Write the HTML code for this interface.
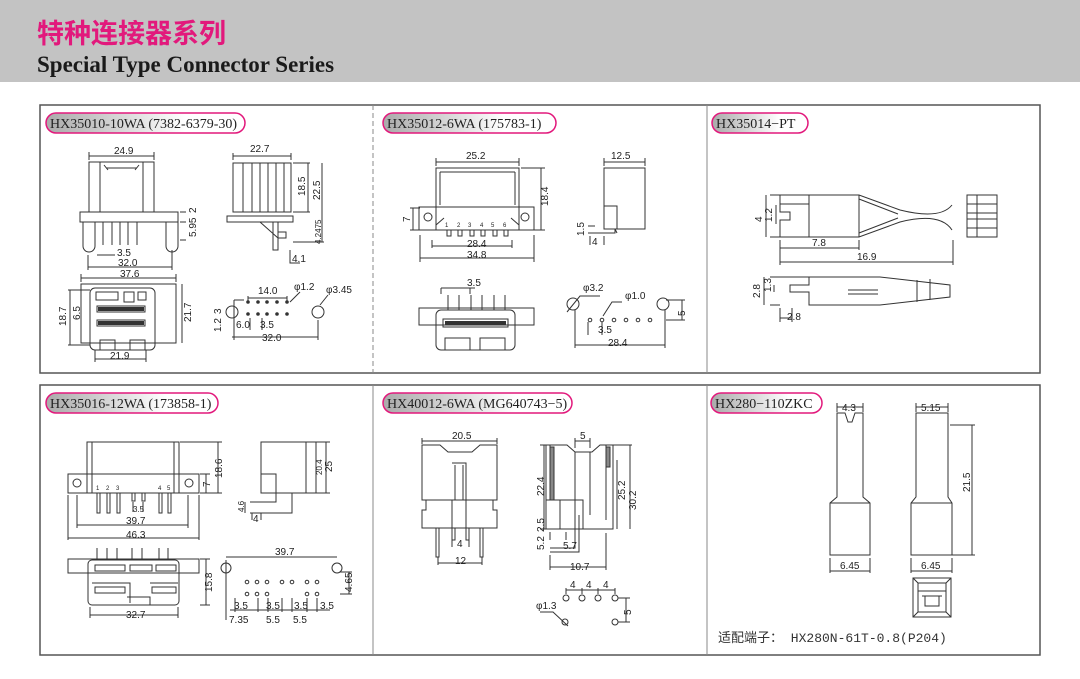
<!DOCTYPE html>
<html><head><meta charset="utf-8"><style>
html,body{margin:0;padding:0;background:#fff;width:1080px;height:679px;overflow:hidden}
svg{display:block}
.t{font-family:"Liberation Sans",sans-serif;font-size:10px;fill:#222}
.p{font-family:"Liberation Serif","Noto Serif CJK SC",serif;font-size:14px;fill:#222}
</style></head><body>
<svg width="1080" height="679" viewBox="0 0 1080 679" xmlns="http://www.w3.org/2000/svg">
<defs><linearGradient id="g" x1="0" x2="1"><stop offset="0" stop-color="#aaa"/><stop offset="0.7" stop-color="#fff"/></linearGradient></defs>
<rect x="0" y="0" width="1080" height="82" fill="#c3c3c3"/>
<text x="37" y="43" font-family="Liberation Sans,'Noto Sans CJK SC',sans-serif" font-size="27" font-weight="bold" fill="#e2197c">特种连接器系列</text>
<text x="37" y="72" font-family="Liberation Serif,serif" font-size="23" font-weight="bold" fill="#1a1a1a">Special Type Connector Series</text>

<g fill="none" stroke="#555" stroke-width="1.5">
<rect x="40" y="105" width="1000" height="268"/>
<rect x="40" y="385" width="1000" height="270"/>
</g>
<line x1="373" y1="105" x2="373" y2="373" stroke="#888" stroke-dasharray="5,3"/>
<line x1="707" y1="105" x2="707" y2="373" stroke="#888"/>
<line x1="373" y1="385" x2="373" y2="655" stroke="#888"/>
<line x1="707" y1="385" x2="707" y2="655" stroke="#888"/>

<g stroke="#e2197c" stroke-width="1.5" fill="url(#g)">
<rect x="46" y="113" width="199" height="20" rx="10"/>
<rect x="383" y="113" width="173" height="20" rx="10"/>
<rect x="712" y="113" width="96" height="20" rx="10"/>
<rect x="46" y="393" width="172" height="20" rx="10"/>
<rect x="383" y="393" width="189" height="20" rx="10"/>
<rect x="711" y="393" width="111" height="20" rx="10"/>
</g>
<text class="p" x="50" y="128">HX35010-10WA (7382-6379-30)</text>
<text class="p" x="387" y="128">HX35012-6WA (175783-1)</text>
<text class="p" x="716" y="128">HX35014−PT</text>
<text class="p" x="50" y="408">HX35016-12WA (173858-1)</text>
<text class="p" x="387" y="408">HX40012-6WA (MG640743−5)</text>
<text class="p" x="715" y="408">HX280−110ZKC</text>

<g fill="none" stroke="#333" stroke-width="1">
<rect x="89" y="162" width="65" height="50"/><line x1="100" y1="162" x2="100" y2="212"/><line x1="143" y1="162" x2="143" y2="212"/>
<path d="M106 168 L137 168 M104 165 L108 170 M139 165 L135 170"/>
<rect x="80" y="212" width="98" height="10"/>
<path d="M83 222 V246 a6 6 0 0 0 12 0 V222 M166 222 V246 a6 6 0 0 0 12 0 V222"/>
<path d="M103 222V245M112 222V245M120 222V245M128 222V245M137 222V245"/>
<path d="M89 152V160M154 152V160M89 156H154M88 255V270M172 250V270M88 267H172M97 255H115M180 212H186M180 222H186M180 240H186"/>
<rect x="233" y="163" width="58" height="49"/>
<path d="M243 163V212M252 163V212M260 163V212M268 163V212M276 163V212M284 163V212"/>
<rect x="227" y="216" width="66" height="6"/>
<path d="M273 222V250H278V222M260 222L278 238M278 232H286V238H278"/>
<path d="M233 153V160M291 153V160M233 156H291M293 163H310M293 212H310M293 242H324M308 163V212M322 163V242M290 250V263H300"/>
<rect x="81" y="284" width="95" height="59"/>
<rect x="90" y="288" width="65" height="62" rx="5"/>
<rect x="97" y="306" width="48" height="6"/><rect x="97" y="320" width="48" height="6"/>
<rect x="96" y="292" width="22" height="8"/><rect x="124" y="292" width="10" height="10"/><rect x="138" y="292" width="8" height="8"/>
<path d="M100 350V340H115V350M130 350V340H145V350M81 274V282M176 274V282M81 278H176M95 350V362M146 350V362M95 359H146M70 290V345M68 290H90M68 345H90M182 284V343"/>
<circle cx="232" cy="312" r="6"/><circle cx="318" cy="312" r="6"/>
<path d="M234 300H244M234 300V340M318 320V340M232 337H318M248 296V302M287 296V302M248 298H287M290 302L300 292M320 305L328 295M250 318V330M262 318V330"/>
</g>
<g fill="#333"><circle cx="248" cy="302" r="1.8"/><circle cx="258" cy="302" r="1.8"/><circle cx="267" cy="302" r="1.8"/><circle cx="277" cy="302" r="1.8"/><circle cx="287" cy="302" r="1.8"/><circle cx="248" cy="314" r="1.8"/><circle cx="258" cy="314" r="1.8"/><circle cx="267" cy="314" r="1.8"/><circle cx="277" cy="314" r="1.8"/><circle cx="287" cy="314" r="1.8"/>
<rect x="98" y="307" width="46" height="4"/><rect x="98" y="321" width="46" height="4"/></g>
<g class="t">
<text x="114" y="154">24.9</text><text x="117" y="256">3.5</text><text x="118" y="266">32.0</text>
<text x="250" y="152">22.7</text><text x="292" y="262">4.1</text><text x="120" y="277">37.6</text><text x="110" y="359">21.9</text>
<text x="258" y="294">14.0</text><text x="294" y="290">φ1.2</text><text x="326" y="293">φ3.45</text>
<text x="236" y="328">6.0</text><text x="260" y="328">3.5</text><text x="262" y="341">32.0</text>
<text transform="translate(196,213) rotate(-90)">2</text><text transform="translate(196,237) rotate(-90)">5.95</text>
<text transform="translate(305,196) rotate(-90)">18.5</text><text transform="translate(320,200) rotate(-90)">22.5</text>
<text transform="translate(321,244) rotate(-90)" font-size="8">4.2475</text>
<text transform="translate(66,326) rotate(-90)">18.7</text><text transform="translate(80,320) rotate(-90)">6.5</text><text transform="translate(191,322) rotate(-90)">21.7</text>
<text transform="translate(221,314) rotate(-90)">3</text><text transform="translate(221,332) rotate(-90)">1.2</text>
</g>

<g fill="none" stroke="#333">
<rect x="436" y="168" width="83" height="62"/><path d="M440 172H515M440 172V205M515 172V205"/>
<rect x="419" y="207" width="115" height="23"/><path d="M436 207V230M519 207V230M436 225L444 218M519 225L511 218"/>
<circle cx="428" cy="217" r="4"/><circle cx="525" cy="217" r="4"/>
<path d="M447 230v6h4v-6M458 230v6h4v-6M470 230v6h4v-6M481 230v6h4v-6M493 230v6h4v-6M504 230v6h4v-6"/>
<path d="M436 158V166M519 158V166M436 162H519M521 168H545M521 230H545M541 168V230M420 208H410M420 230H410M413 208V230M420 235V262M534 235V262M420 258H534M432 240V248M512 240V248M432 246H512"/>
<rect x="604" y="168" width="41" height="61"/><rect x="604" y="206" width="13" height="23"/>
<path d="M615 229V233H590M615 229L617 233M604 158V166M645 158V166M604 162H645M590 236V245M604 236V245M588 226H595M588 233H595"/>
<rect x="436" y="310" width="79" height="40" rx="5"/><rect x="419" y="308" width="115" height="17"/>
<rect x="443" y="319" width="65" height="8"/>
<path d="M448 295V310M459 295V310M471 295V310M482 295V310M494 295V310M505 295V310M441 288H475M441 288V294M470 288V294M445 350V338H470V350M480 350V338H505V350"/>
<circle cx="573" cy="304" r="6"/><circle cx="663" cy="304" r="6"/>
<path d="M567 312L580 296L600 296M603 316L612 302H622M588 322V335M602 322V335M575 310V348M665 310V348M575 345H665M666 300H685M666 320H685M682 300V320"/>
</g>
<g fill="#333"><rect x="445" y="321" width="61" height="4"/></g>
<g stroke="#333" fill="none"><circle cx="590" cy="320" r="1.8"/><circle cx="602" cy="320" r="1.8"/><circle cx="614" cy="320" r="1.8"/><circle cx="626" cy="320" r="1.8"/><circle cx="638" cy="320" r="1.8"/><circle cx="650" cy="320" r="1.8"/></g>
<g class="t">
<text x="466" y="159">25.2</text><text x="467" y="247">28.4</text><text x="467" y="258">34.8</text><text x="611" y="159">12.5</text>
<text x="592" y="245">4</text><text x="467" y="286">3.5</text><text x="583" y="291">φ3.2</text><text x="625" y="299">φ1.0</text>
<text x="598" y="333">3.5</text><text x="608" y="346">28.4</text>
<text transform="translate(410,222) rotate(-90)">7</text><text transform="translate(548,206) rotate(-90)">18.4</text>
<text transform="translate(584,236) rotate(-90)">1.5</text><text transform="translate(685,316) rotate(-90)">5</text>
<g font-size="6"><text x="445" y="227">1</text><text x="457" y="227">2</text><text x="468" y="227">3</text><text x="480" y="227">4</text><text x="491" y="227">5</text><text x="503" y="227">6</text></g>
</g>

<g fill="none" stroke="#333">
<path d="M780 195H859L900 210Q940 220 952 205M780 237H859L900 222Q940 212 952 230"/>
<path d="M780 195V204H809V195M780 228V237H809V228M809 195V237M780 204V212H790V220H780V228M859 195V237M859 199L898 214M859 233L898 218"/>
<rect x="967" y="195" width="30" height="42"/><path d="M967 204H997M967 228H997M967 213H997M967 219H997M977 195V237"/>
<path d="M770 195H780M770 237H780M766 195V237M776 205V224M780 240V265M859 240V250M953 240V265M780 248H859M780 262H953"/>
<path d="M780 277H809V285H790V292H809V305H880L950 297V285L880 277H809M848 290H878M848 294H878M917 280V302M930 279V300"/>
<path d="M770 277H780M770 305H780M764 277V305M774 285V292M780 308V322M792 308V322M780 318H792"/>
</g>
<g class="t"><text x="812" y="246">7.8</text><text x="857" y="260">16.9</text><text x="787" y="320">2.8</text>
<text transform="translate(762,222) rotate(-90)">4</text><text transform="translate(772,222) rotate(-90)">1.2</text>
<text transform="translate(760,298) rotate(-90)">2.8</text><text transform="translate(771,292) rotate(-90)">1.3</text></g>

<g fill="none" stroke="#333">
<rect x="87" y="442" width="92" height="51"/><path d="M92 442V493M174 442V493"/>
<rect x="68" y="474" width="131" height="19"/><circle cx="77" cy="483" r="4"/><circle cx="189" cy="483" r="4"/>
<path d="M97 493v20h3v-20M107 493v20h3v-20M117 493v20h3v-20M132 493v8h3v-8M142 493v8h3v-8M159 493v20h3v-20M168 493v20h3v-20"/>
<path d="M180 442H222M200 474H210M200 493H222M218 442V493M206 474V493M133 502V512M143 502V512M77 495V528M188 495V528M77 525H188M68 495V540M199 495V540M68 538H199"/>
<rect x="261" y="442" width="45" height="51"/><rect x="261" y="474" width="15" height="19"/>
<path d="M292 493V513H250M276 493V502H250M306 442H330M306 493H330M316 442V493M326 442V493M245 502V513M252 513V520M261 513V520"/>
<rect x="68" y="559" width="131" height="14"/><rect x="88" y="560" width="91" height="45" rx="4"/>
<path d="M97 548V560M107 548V560M117 548V560M132 548V560M142 548V560M159 548V560M168 548V560M92 583H130V603M150 583H178M127 597H150V605M90 607V618M178 607V618M90 615H178M200 559H210M200 605H210M206 559V605"/>
<rect x="95" y="565" width="30" height="6"/><rect x="130" y="565" width="22" height="6"/><rect x="156" y="565" width="20" height="6"/><rect x="95" y="587" width="30" height="6"/><rect x="152" y="587" width="24" height="6"/>
<circle cx="226" cy="568" r="5"/><circle cx="337" cy="568" r="5"/>
<path d="M226 560V620M226 557H337M340 572H352M340 594H352M349 572V594M235 598V612M258 598V612M268 598V612M282 598V612M292 598V612M307 598V612M317 598V612M230 610H330"/>
</g>
<g stroke="#333" fill="none"><circle cx="247" cy="582" r="1.8"/><circle cx="257" cy="582" r="1.8"/><circle cx="267" cy="582" r="1.8"/><circle cx="282" cy="582" r="1.8"/><circle cx="292" cy="582" r="1.8"/><circle cx="307" cy="582" r="1.8"/><circle cx="317" cy="582" r="1.8"/><circle cx="247" cy="594" r="1.8"/><circle cx="257" cy="594" r="1.8"/><circle cx="267" cy="594" r="1.8"/><circle cx="307" cy="594" r="1.8"/><circle cx="317" cy="594" r="1.8"/></g>
<g class="t"><text x="126" y="524">39.7</text><text x="126" y="538">46.3</text><text x="133" y="512" font-size="8">3.5</text><text x="253" y="522">4</text>
<text x="126" y="618">32.7</text><text x="275" y="555">39.7</text>
<text x="234" y="609">3.5</text><text x="266" y="609">3.5</text><text x="294" y="609">3.5</text><text x="320" y="609">3.5</text>
<text x="229" y="623">7.35</text><text x="266" y="623">5.5</text><text x="293" y="623">5.5</text>
<text transform="translate(222,478) rotate(-90)">18.6</text><text transform="translate(210,487) rotate(-90)">7</text>
<text transform="translate(322,475) rotate(-90)" font-size="8">20.4</text><text transform="translate(332,472) rotate(-90)">25</text>
<text transform="translate(244,512) rotate(-90)" font-size="8">4.6</text><text transform="translate(212,592) rotate(-90)">15.8</text>
<text transform="translate(352,592) rotate(-90)">4.6</text><text transform="translate(352,578) rotate(-90)">5</text>
<g font-size="6"><text x="96" y="490">1</text><text x="106" y="490">2</text><text x="116" y="490">3</text><text x="158" y="490">4</text><text x="167" y="490">5</text></g></g>

<g fill="none" stroke="#333">
<path d="M422 445H440L448 452H472L480 445H497V500H493V510H497V528H422V510H426V500H422Z"/>
<path d="M422 500H497M452 463H466V500M455 465V500M463 465V500M452 500V528M466 500V528"/>
<path d="M436 528v29h3v-29M452 528v12h3v-12M466 528v12h3v-12M480 528v29h3v-29M422 438V444M497 438V444M422 441H497M452 540V547M469 540V547M438 557V565M482 557V565M438 563H482"/>
<path d="M546 445H567L575 452H592L600 445H613V529H546Z"/>
<path d="M550 445V500M606 445V520M575 452V515M590 452V515M546 500H583V529M560 500V529"/>
<rect x="550" y="447" width="4" height="53" fill="#888"/><rect x="606" y="447" width="4" height="20" fill="#888"/>
<path d="M575 515V548H550M579 515V552H550M575 438V448M590 438V448M575 441H590M540 445H546M540 529H546M544 445V529M613 445H632M617 460V529M630 445V529M550 532V540M566 532V540M550 555V570M606 533V570M550 567H606"/>
<circle cx="566" cy="598" r="3"/><circle cx="582" cy="598" r="3"/><circle cx="598" cy="598" r="3"/><circle cx="615" cy="598" r="3"/><circle cx="565" cy="622" r="3"/><circle cx="615" cy="622" r="3"/>
<path d="M566 588V594M582 588V594M598 588V594M615 588V594M566 590H615M618 598H630M618 622H630M626 598V622M540 612H553L568 626"/>
</g>
<g class="t"><text x="452" y="439">20.5</text><text x="457" y="547">4</text><text x="455" y="564">12</text><text x="580" y="439">5</text>
<text x="563" y="549">5.7</text><text x="570" y="570">10.7</text><text x="570" y="588">4</text><text x="586" y="588">4</text><text x="603" y="588">4</text>
<text x="536" y="609">φ1.3</text>
<text transform="translate(544,496) rotate(-90)">22.4</text><text transform="translate(625,500) rotate(-90)">25.2</text><text transform="translate(636,510) rotate(-90)">30.2</text>
<text transform="translate(544,532) rotate(-90)">2.5</text><text transform="translate(544,550) rotate(-90)">5.2</text><text transform="translate(631,615) rotate(-90)">5</text></g>

<g fill="none" stroke="#333">
<path d="M837 413H845L848 422H852L855 413H863V497L870 503V555H830V503L837 497Z"/><path d="M830 503H870"/>
<path d="M916 413H948V497L952 503V555H911V503L916 497Z"/><path d="M911 503H952"/>
<path d="M837 403V412M863 403V412M837 407H863M916 403V412M948 403V412M916 407H948M950 425H975M950 555H975M972 425V555M830 558V573M870 558V573M830 571H870M911 558V573M952 558V573M911 571H952"/>
<rect x="913" y="578" width="38" height="39"/><rect x="918" y="583" width="28" height="29"/><path d="M913 578L918 583M951 578L946 583M913 617L918 612M951 617L946 612M918 591H946M922 596H942M925 596V606H939V596"/>
</g>
<g class="t"><text x="842" y="411">4.3</text><text x="921" y="411">5.15</text><text x="840" y="569">6.45</text><text x="921" y="569">6.45</text>
<text transform="translate(970,492) rotate(-90)">21.5</text></g>
<text x="718" y="642" font-family="'Liberation Mono','Noto Sans CJK SC',monospace" font-size="13" fill="#333">适配端子：  HX280N-61T-0.8(P204)</text>
</svg>
</body></html>
